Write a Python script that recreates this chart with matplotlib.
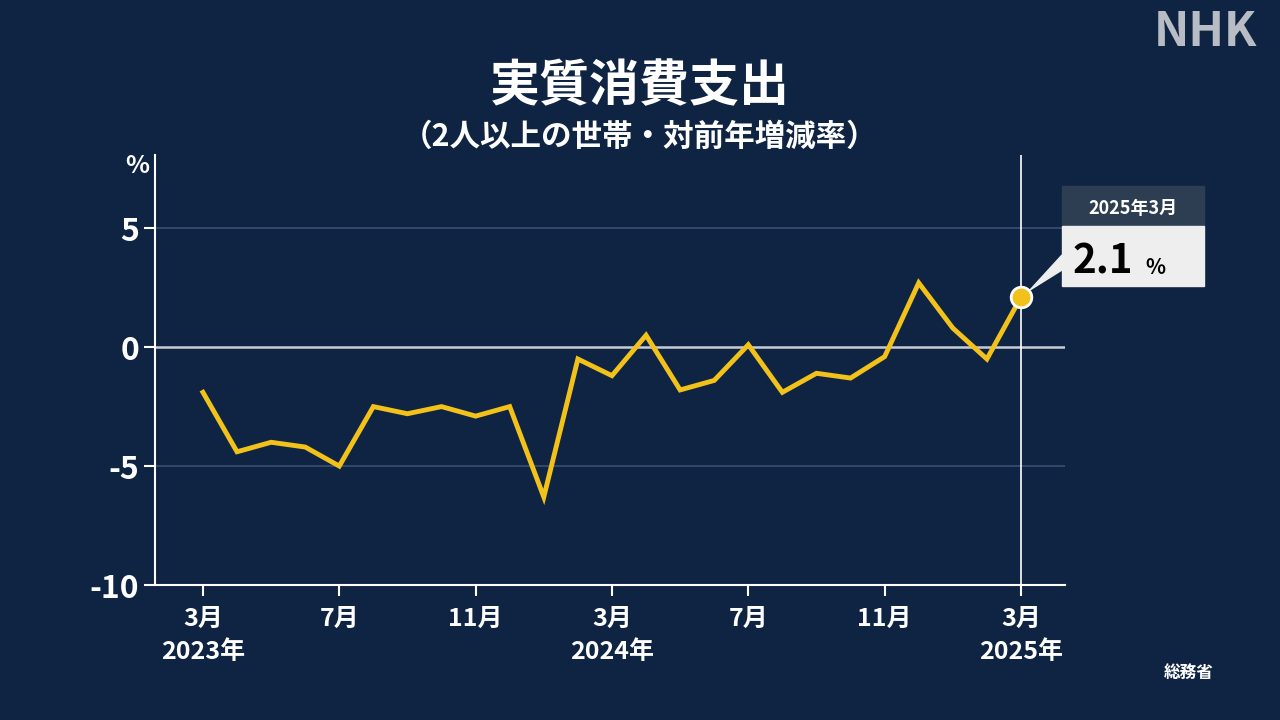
import matplotlib.pyplot as plt
import matplotlib.patches as patches

plt.rcParams['font.family'] = ['Noto Sans CJK JP', 'DejaVu Sans']

# monthly data, 2023-03 .. 2025-03
values = [-1.9, -4.4, -4.0, -4.2, -5.0, -2.5, -2.8, -2.5, -2.9, -2.5,
          -6.3, -0.5, -1.2, 0.5, -1.8, -1.4, 0.1, -1.9, -1.1, -1.3,
          -0.4, 2.7, 0.8, -0.5, 2.1]
tick_pos = [0, 4, 8, 12, 16, 20, 24]
tick_labels = ['3月\n2023年', '7月', '11月', '3月\n2024年', '7月', '11月', '3月\n2025年']
bg = '#0e2442'
line_color = '#f2c21b'

fig = plt.figure(figsize=(12.8, 7.2), dpi=100, facecolor=bg)
ax = fig.add_axes([0.121, 0.1875, 0.711, 0.597], facecolor=bg)

x = list(range(len(values)))
for v in (5, -5):
    ax.axhline(v, color='#3a5070', lw=1.2, zorder=1)
ax.axhline(0, color='#c8ccd4', lw=1.8, zorder=1)
ax.axvline(24, color='white', lw=1.2, zorder=1)
ax.plot(x, values, color=line_color, lw=3.5, zorder=3, solid_joinstyle='miter')
ax.scatter([24], [values[-1]], s=220, color=line_color, edgecolor='white', lw=2, zorder=4)

ax.set_xlim(-1.41, 25.29)
ax.set_ylim(-10, 8.07)
ax.set_yticks([5, 0, -5, -10])
ax.set_yticklabels(['5', '0', '-5', '-10'])
ax.set_xticks(tick_pos)
ax.set_xticklabels(tick_labels, linespacing=1.45)
ax.tick_params(axis='y', colors='white', labelsize=23, length=8, width=1.5)
ax.tick_params(axis='x', colors='white', labelsize=18, length=8, width=1.5, pad=8)
for lab in ax.get_xticklabels():
    lab.set_fontweight('bold')
    lab.set_verticalalignment('top')
for lab in ax.get_yticklabels():
    lab.set_fontweight('bold')
for s in ('top', 'right'):
    ax.spines[s].set_visible(False)
ax.spines['left'].set_color('white')
ax.spines['bottom'].set_color('white')
ax.spines['left'].set_linewidth(1.5)
ax.spines['bottom'].set_linewidth(1.5)

fig.text(0.098, 0.76, '%', color='white', fontsize=18, fontweight='bold')
fig.text(0.5, 0.88, '実質消費支出', color='white', fontsize=36, fontweight='bold', ha='center', va='center')
fig.text(0.5, 0.81, '（2人以上の世帯・対前年増減率）', color='white', fontsize=22, fontweight='bold', ha='center', va='center')
fig.text(0.982, 0.955, 'NHK', color='#b8bcc4', fontsize=34, fontweight='bold', style='italic', ha='right', va='center')
fig.text(0.948, 0.065, '総務省', color='white', fontsize=12, fontweight='bold', ha='right', va='center')

# callout box
fig.patches.append(patches.Rectangle((1062/1280, 1-226/720), 142/1280, 40/720,
                                     transform=fig.transFigure, color='#2e3e52', zorder=5))
fig.patches.append(patches.Rectangle((1062/1280, 1-286/720), 142/1280, 60/720,
                                     transform=fig.transFigure, color='#eeeeee', zorder=5))
fig.patches.append(patches.Polygon([(1030/1280, 1-290/720), (1062/1280, 1-255/720), (1062/1280, 1-270/720)],
                                   closed=True, transform=fig.transFigure, color='#eeeeee', zorder=5))
fig.text(1133/1280, 1-208/720, '2025年3月', color='white', fontsize=13, fontweight='bold', ha='center', va='center', zorder=6)
fig.text(1073/1280, 1-262/720, '2.1', color='black', fontsize=29, fontweight='bold', ha='left', va='center', zorder=6)
fig.text(1145/1280, 1-267/720, '%', color='black', fontsize=15, fontweight='bold', ha='left', va='center', zorder=6)

fig.savefig('out.png', dpi=100, facecolor=bg)
